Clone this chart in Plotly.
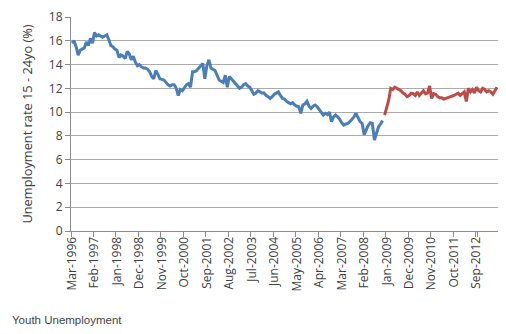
import pandas as pd
import plotly.graph_objects as go

# Monthly categories, Mar-1996 .. Jul-2013
months = [d.strftime("%b-%Y") for d in pd.date_range("1996-03-01", "2013-07-01", freq="MS")]

# Youth unemployment rate, 15-24 year olds (%), Mar-1996 .. Nov-2008
rate_hist = [
    15.8, 16.0, 15.5, 14.8, 15.2, 15.3, 15.4, 15.9, 15.6, 16.2, 15.8, 16.7,
    16.4, 16.5, 16.4, 16.3, 16.4, 16.5, 16.1, 15.6, 15.5, 15.3, 15.2, 14.6,
    14.8, 14.7, 14.5, 15.1, 14.9, 14.4, 14.7, 14.2, 13.9, 14.0, 13.8, 13.7,
    13.7, 13.6, 13.4, 13.0, 12.8, 13.5, 13.2, 12.8, 12.75, 12.7, 12.5, 12.3,
    12.2, 12.3, 12.3, 12.0, 11.4, 11.9, 11.8, 12.1, 12.3, 12.4, 12.1, 13.4,
    13.4, 13.5, 13.7, 13.9, 14.1, 12.8, 13.9, 14.4, 13.7, 13.6, 13.5, 13.1,
    12.7, 12.6, 12.5, 13.1, 12.1, 13.0, 12.8, 12.6, 12.4, 12.2, 12.0, 12.1,
    12.3, 12.4, 12.2, 12.1, 11.8, 11.5, 11.6, 11.8, 11.7, 11.6, 11.6, 11.4,
    11.3, 11.15, 11.3, 11.5, 11.6, 11.7, 11.4, 11.15, 11.1, 10.9, 10.8, 10.7,
    10.8, 10.6, 10.5, 10.45, 9.9, 10.6, 10.7, 10.9, 10.5, 10.3, 10.5, 10.6,
    10.45, 10.2, 9.9, 9.75, 9.9, 9.8, 10.0, 9.2, 9.6, 9.75, 9.6, 9.4,
    9.1, 8.9, 9.0, 9.05, 9.2, 9.4, 9.6, 9.9, 9.5, 9.2, 9.05, 8.1,
    8.5, 8.9, 9.1, 9.05, 7.65, 8.3, 8.75, 9.0, 9.3,
]

# Youth unemployment rate (%), Dec-2008 .. Jul-2013
rate_recent = [
    9.75, 10.4, 11.0, 12.0, 11.9, 12.1, 12.0, 11.85, 11.8, 11.6, 11.5, 11.3,
    11.4, 11.6, 11.55, 11.4, 11.7, 11.4, 11.6, 11.8, 11.55, 11.6, 12.2, 11.15,
    11.55, 11.5, 11.3, 11.2, 11.2, 11.1, 11.15, 11.2, 11.3, 11.3, 11.4, 11.5,
    11.6, 11.4, 11.55, 11.7, 10.9, 12.0, 11.7, 11.9, 11.6, 12.1, 11.8, 11.7,
    12.0, 11.9, 11.7, 11.8, 11.7, 11.5, 11.8, 12.1,
]

y_ticks = list(range(0, 19, 2))
x_tick_labels = months[::11]

n_hist = len(rate_hist)

fig = go.Figure()
fig.add_trace(go.Scatter(
    x=months[:n_hist], y=rate_hist, mode="lines",
    line=dict(color="#4A7EBB", width=3), showlegend=False,
))
fig.add_trace(go.Scatter(
    x=months[n_hist:n_hist + len(rate_recent)], y=rate_recent, mode="lines",
    line=dict(color="#BE4B48", width=3), showlegend=False,
))

axis_font = dict(family="'Open Sans', Lato, sans-serif", size=12, color="#404040")
title_font = dict(family="'Open Sans', Lato, sans-serif", size=12.8, color="#404040")

fig.update_layout(
    width=506, height=334,
    margin=dict(l=71, r=8, t=17, b=103),
    paper_bgcolor="white", plot_bgcolor="white",
    font=axis_font,
    xaxis=dict(
        type="category",
        categoryorder="array", categoryarray=months,
        range=[-0.5, len(months) - 0.5],
        tickmode="array", tickvals=x_tick_labels, ticktext=x_tick_labels,
        tickson="boundaries",
        tickangle=-90,
        ticks="outside", ticklen=5, tickcolor="#8c8c8c",
        showgrid=False,
        showline=True, linecolor="#8c8c8c", linewidth=1,
        tickfont=axis_font,
    ),
    yaxis=dict(
        range=[0, 18],
        tickmode="array", tickvals=y_ticks,
        ticks="outside", ticklen=5, tickcolor="#8c8c8c",
        showgrid=True, gridcolor="#ababab", gridwidth=1,
        zeroline=False,
        showline=True, linecolor="#8c8c8c", linewidth=1,
        tickfont=axis_font,
        title=dict(text="Unemployment rate 15 - 24yo (%)", font=title_font, standoff=13),
    ),
    annotations=[dict(
        text="Youth Unemployment",
        xref="paper", yref="paper",
        x=-0.143, y=-0.416, xanchor="left", yanchor="middle",
        showarrow=False,
        font=dict(family="Liberation Sans, Arial, sans-serif", size=11.5, color="#444444"),
    )],
)

fig.write_html("out.html")
